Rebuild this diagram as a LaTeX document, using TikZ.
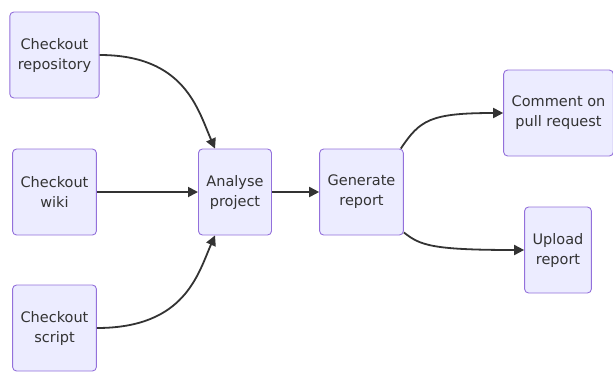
\documentclass[tikz,border=0pt]{standalone}
\usepackage{fontspec}
\setmainfont{DejaVu Sans}
\usetikzlibrary{arrows.meta}
\definecolor{boxfill}{HTML}{ECECFF}
\definecolor{boxline}{HTML}{9370DB}
\definecolor{ink}{HTML}{333333}
\tikzset{
  stepbox/.style={draw=boxline, fill=boxfill, rounded corners=4pt, line width=0.9pt,
    minimum height=86pt, inner xsep=8pt, align=center, text=ink,
    font=\fontsize{14.5}{20}\selectfont},
  flow/.style={draw=ink, line width=1.8pt, -{Triangle[length=10pt,width=10pt]}}
}
\begin{document}
\begin{tikzpicture}[x=1pt,y=-1pt]
          \useasboundingbox (0,0) rectangle (613,381);
          \node[stepbox] (repo) at (54.5,55){Checkout\\repository};
          \node[stepbox] (wiki) at (54.5,192){Checkout\\wiki};
          \node[stepbox] (script) at (54.5,328){Checkout\\script};
          \node[stepbox] (analyse) at (235,192){Analyse\\project};
          \node[stepbox] (generate) at (361.5,192){Generate\\report};
          \node[stepbox] (comment) at (558.5,113){Comment on\\pull request};
          \node[stepbox] (upload) at (558,250){Upload\\report};
          \draw[flow](repo.east) .. controls (185,55) and (198,110) .. ([xshift=-20pt]analyse.north);
          \draw[flow](wiki) -- (analyse);
          \draw[flow](script.east) .. controls (185,328) and (198,274) .. ([xshift=-20pt]analyse.south);
          \draw[flow](analyse) -- (generate);
          \draw[flow]([xshift=-3pt]generate.north east) .. controls (420,120) and (430,113) .. (comment.west);
          \draw[flow]([yshift=3pt]generate.south east) .. controls (420,245) and (430,250) .. (upload.west);
        \end{tikzpicture}
\end{document}
